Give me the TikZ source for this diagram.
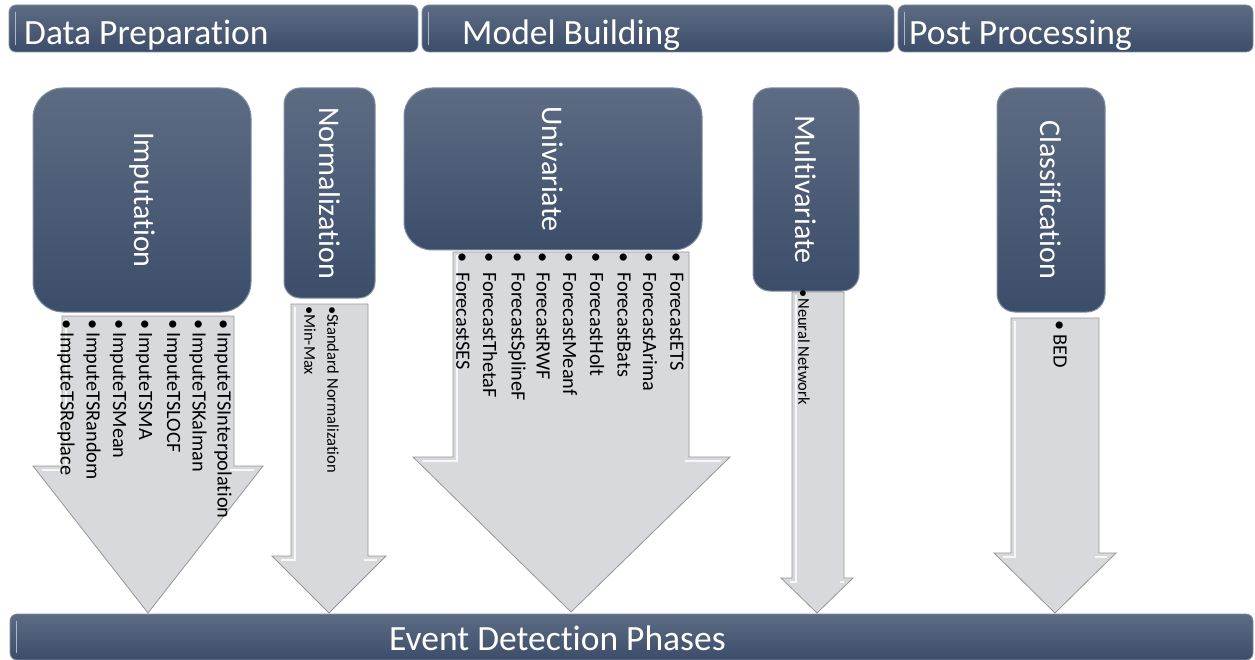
\documentclass[tikz,border=0pt]{standalone}
\usepackage{fontspec}
\setmainfont{Carlito}[Ligatures=NoCommon]
\usepackage{tikz}
\definecolor{bardark}{RGB}{60,77,106}
\definecolor{barlight}{RGB}{93,108,131}
\definecolor{barline}{RGB}{128,142,164}
\definecolor{glosscol}{RGB}{170,184,204}
\definecolor{arrowfill}{RGB}{216,217,221}
\definecolor{arrowline}{RGB}{150,150,150}
\tikzset{
	phase/.style     = {draw=barline, line width=0.8pt, rounded corners=7pt,
		top color=barlight, bottom color=bardark, minimum height=47pt, inner sep=0pt},
	phasetext/.style = {text=white, font=\fontsize{35.5}{35.5}\selectfont, inner sep=0pt, anchor=base west},
	task/.style      = {draw=barline, line width=1pt, top color=barlight, bottom color=bardark, inner sep=0pt},
	tasktext/.style  = {text=white, font=\fontsize{30}{30}\selectfont, rotate=-90, inner sep=0pt},
	downarrow/.style = {fill=arrowfill, draw=arrowline, line width=0.8pt},
	bevel/.style     = {draw=white, line width=2pt, opacity=0.8},
	listitem/.style  = {rotate=-90, anchor=west, inner sep=0pt, font=\fontsize{20.3}{20.3}\selectfont},
	smallitem/.style = {listitem, font=\fontsize{16.5}{16.5}\selectfont},
	gloss/.style     = {draw=glosscol, line width=1.5pt, line cap=round}
}
% xl, xr, top of shaft, head left, head right, head top, tip x, tip y
\newcommand{\blockarrow}[8]{
	\draw[downarrow] (#1,#3) -- (#2,#3) -- (#2,#6) -- (#5,#6) -- (#7,#8) -- (#4,#6) -- (#1,#6) -- cycle;
	\draw[bevel] (#1+4,#3+3) -- (#1+4,#6+4) -- (#4+9,#6+4);
	\draw[bevel] (#2-4,#6+4) -- (#5-9,#6+4);
}

\begin{document}
\begin{tikzpicture}[x=1pt, y=-1pt]
	\useasboundingbox (0,0) rectangle (1255,660);
	
	% phase bars
	\draw
	node at (213.5,28.5) [phase, minimum width=409pt] (dp) {}
	node at (658,28.5) [phase, minimum width=472pt] (mb) {}
	node at (1075.5,28.5) [phase, minimum width=355pt] (pp) {};
	\node[phasetext] (dpt) at (24,45) {Data Preparation};
	\node[phasetext] (mbt) at (462,45) {Model Building};
	\node[phasetext] (ppt) at (909,45) {Post Processing};
	\foreach \b in {dp,mb,pp}
		\draw[gloss] ([xshift=7pt,yshift=-8pt]\b.north west) -- ([xshift=7pt,yshift=8pt]\b.south west);
	
	% arrows
	\blockarrow{62}{234}{316}{33}{263}{466}{148}{613}
	\blockarrow{291}{368}{304}{272}{386}{556}{329}{613}
	\blockarrow{453}{689}{252}{413}{730}{457}{571}{612}
	\blockarrow{792}{844}{292}{781}{853}{578}{817}{613}
	\blockarrow{1011}{1099}{318}{994}{1116}{553}{1055}{613}
	
	% task boxes
	\draw
	node at (142,200) [task, rounded corners=30pt, minimum width=218pt, minimum height=224pt] (imp) {}
	node at (329.5,193) [task, rounded corners=16pt, minimum width=91pt, minimum height=210pt] (nrm) {}
	node at (553,169) [task, rounded corners=28pt, minimum width=298pt, minimum height=162pt] (uni) {}
	node at (806,189.5) [task, rounded corners=17pt, minimum width=106pt, minimum height=203pt] (mul) {}
	node at (1051,200) [task, rounded corners=18pt, minimum width=108pt, minimum height=224pt] (cls) {};
	\node[tasktext] (impt) at (imp) {Imputation};
	\node[tasktext] (nrmt) at (nrm) {Normalization};
	\node[tasktext] (unit) at (uni) {Univariate};
	\node[tasktext] (mult) at (mul) {Multivariate};
	\node[tasktext] (clst) at (cls) {Classification};
	
	% methods
	\foreach \x/\txt [count=\i] in {66/ImputeTSReplace, 92/ImputeTSRandom, 118/ImputeTSMean,
		144/ImputeTSMA, 172/ImputeTSLOCF, 198/ImputeTSKalman, 223/ImputeTSInterpolation}
		\node[listitem] (imp\i) at (\x,319) {\textbullet\hspace{3pt}\txt};
	\foreach \x/\txt [count=\i] in {463/ForecastSES, 490/ForecastThetaF, 517/ForecastSplineF,
		543/ForecastRWF, 570/ForecastMeanf, 597/ForecastHolt, 624/ForecastBats,
		650/ForecastArima, 677/ForecastETS}
		\node[listitem] (uni\i) at (\x,252) {\textbullet\hspace{10pt}\txt};
	\node[smallitem] (nrm1) at (310,306) {\textbullet Min-Max};
	\node[smallitem] (nrm2) at (333,306) {\textbullet Standard Normalization};
	\node[smallitem] (mul1) at (804,289) {\textbullet\hspace{1pt}Neural Network};
	\node[listitem] (cls1) at (1060,320) {\textbullet\hspace{4pt}BED};
	
	% bottom bar
	\draw node at (631.5,637) [phase, minimum width=1243pt, minimum height=46pt] (edp) {};
	\draw[gloss] ([xshift=7pt,yshift=-8pt]edp.north west) -- ([xshift=7pt,yshift=8pt]edp.south west);
	\node[phasetext] (edpt) at (389,650) {Event Detection Phases};
	
\end{tikzpicture}
\end{document}
